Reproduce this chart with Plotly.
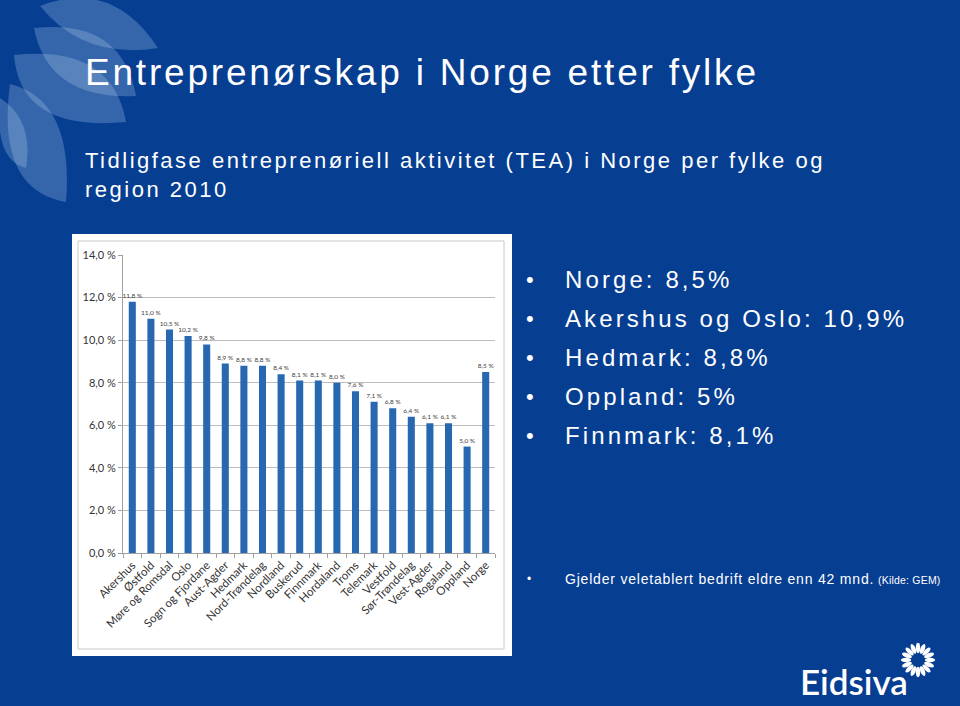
import math
import plotly.graph_objects as go

W, H = 960, 706

# ---------------- data ----------------
fylker = ["Akershus", "Østfold", "Møre og Romsdal", "Oslo", "Sogn og Fjordane",
          "Aust-Agder", "Hedmark", "Nord-Trøndelag", "Nordland", "Buskerud",
          "Finnmark", "Hordaland", "Troms", "Telemark", "Vestfold",
          "Sør-Trøndelag", "Vest-Agder", "Rogaland", "Oppland", "Norge"]
tea = [11.8, 11.0, 10.5, 10.2, 9.8,
       8.9, 8.8, 8.8, 8.4, 8.1,
       8.1, 8.0, 7.6, 7.1, 6.8,
       6.4, 6.1, 6.1, 5.0, 8.5]

title = "Entreprenørskap i Norge etter fylke"
subtitle_lines = ["Tidligfase entreprenøriell aktivitet (TEA) i Norge per fylke og",
                  "region 2010"]
bullets = ["Norge: 8,5%", "Akershus og Oslo: 10,9%", "Hedmark: 8,8%",
           "Oppland: 5%", "Finnmark: 8,1%"]
footnote_main = "Gjelder veletablert bedrift eldre enn 42 mnd."
footnote_src = "(Kilde: GEM)"
logo_text = "Eidsiva"

BG = "rgb(6,62,146)"
BAR = "rgb(40,104,176)"


def px(x):
    return x / W


def py(y):
    return 1 - y / H


def spaced(txt, ls):
    return f"<span style='letter-spacing:{ls}px'>{txt}</span>"


fig = go.Figure()
fig.add_trace(go.Bar(
    x=fylker, y=tea,
    marker=dict(color=BAR, line=dict(width=0)),
    texttemplate="%{y:.1f} %", textposition="outside", constraintext="none",
    textfont=dict(family="Lato, Liberation Sans, Arial", size=6.5, color="#404040"),
    cliponaxis=False, hoverinfo="x+y",
))

shapes = []
# white chart box
shapes.append(dict(type="rect", xref="paper", yref="paper", layer="below",
                   x0=px(72), x1=px(512), y0=py(656), y1=py(234),
                   fillcolor="white", line=dict(width=0)))
shapes.append(dict(type="rect", xref="paper", yref="paper", layer="below",
                   x0=px(78), x1=px(504), y0=py(649), y1=py(241),
                   fillcolor="rgba(0,0,0,0)", line=dict(color="#c8c8c8", width=1)))


def leaf(p0, c1, p1, c2):
    def P(p):
        return f"{px(p[0]):.4f},{py(p[1]):.4f}"
    return f"M {P(p0)} Q {P(c1)} {P(p1)} Q {P(c2)} {P(p0)} Z"


leaves = [
    ((40, 6), (112, -22), (158, 48), (84, 60)),
    ((34, 28), (122, 18), (136, 96), (48, 100)),
    ((14, 55), (112, 44), (126, 122), (20, 132)),
    ((10, 84), (74, 100), (66, 202), (-4, 190)),
    ((0, 98), (34, 120), (26, 168), (-6, 160)),
]
for lf in leaves:
    shapes.append(dict(type="path", xref="paper", yref="paper", layer="below",
                       path=leaf(*lf), fillcolor="rgba(190,215,245,0.26)",
                       line=dict(width=0)))

# logo flower
cx, cy = 918, 660
n_pet = 16
for k in range(n_pet):
    a = 2 * math.pi * k / n_pet
    rc, rl, rw = 12.0, 5.2, 2.2
    pts = []
    for j in range(16):
        t = 2 * math.pi * j / 16
        u = rl * math.cos(t)
        v = rw * math.sin(t)
        xx = cx + (rc + u) * math.cos(a) - v * math.sin(a)
        yy = cy + (rc + u) * math.sin(a) + v * math.cos(a)
        pts.append(f"{px(xx):.5f},{py(yy):.5f}")
    shapes.append(dict(type="path", xref="paper", yref="paper",
                       path="M " + " L ".join(pts) + " Z",
                       fillcolor="white", line=dict(width=0)))

FONT = "Liberation Sans, Arial"
ann = []
ann.append(dict(text=spaced(title, 2.8), x=px(83), y=py(72), xref="paper", yref="paper",
                xanchor="left", yanchor="middle", showarrow=False,
                font=dict(family=FONT, size=37, color="white")))
for i, line in enumerate(subtitle_lines):
    ann.append(dict(text=spaced(line, 2.5), x=px(83), y=py(160 + 30 * i), xref="paper",
                    yref="paper", xanchor="left", yanchor="middle", showarrow=False,
                    font=dict(family=FONT, size=22, color="white")))
for i, b in enumerate(bullets):
    yy = 279 + 39 * i
    ann.append(dict(text="•", x=px(524), y=py(yy), xref="paper", yref="paper",
                    xanchor="left", yanchor="middle", showarrow=False,
                    font=dict(family=FONT, size=22, color="white")))
    ann.append(dict(text=spaced(b, 3.1), x=px(563), y=py(yy), xref="paper", yref="paper",
                    xanchor="left", yanchor="middle", showarrow=False,
                    font=dict(family=FONT, size=24, color="white")))
ann.append(dict(text="•", x=px(525), y=py(579), xref="paper", yref="paper",
                xanchor="left", yanchor="middle", showarrow=False,
                font=dict(family=FONT, size=12, color="white")))
ann.append(dict(text=spaced(footnote_main, 0.8) + " <span style='font-size:10.5px;letter-spacing:0.2px'>"
                + footnote_src + "</span>",
                x=px(563), y=py(579), xref="paper", yref="paper",
                xanchor="left", yanchor="middle", showarrow=False,
                font=dict(family=FONT, size=14, color="white")))
ann.append(dict(text=logo_text, x=px(798), y=py(681), xref="paper", yref="paper",
                xanchor="left", yanchor="middle", showarrow=False,
                font=dict(family="Lato, Open Sans", size=35, color="white", weight=600)))

fig.update_layout(
    width=W, height=H, margin=dict(l=0, r=0, t=0, b=0, autoexpand=False),
    paper_bgcolor=BG, plot_bgcolor="white",
    separators=", ",
    showlegend=False, bargap=0.62,
    shapes=shapes, annotations=ann,
    xaxis=dict(domain=[px(123), px(495)], tickangle=-45, automargin=False,
               tickfont=dict(family="Lato, Liberation Sans, Arial", size=11.5, color="#333333"),
               showline=True, linecolor="#a0a0a0", linewidth=1,
               ticks="outside", ticklen=4, tickcolor="#a0a0a0", tickson="boundaries",
               showgrid=False, fixedrange=True),
    yaxis=dict(domain=[py(553), py(255)], range=[0, 14], dtick=2, automargin=False,
               tickformat=".1f", ticksuffix=" %",
               tickfont=dict(family="Lato, Liberation Sans, Arial", size=11, color="#333333"),
               showgrid=True, gridcolor="#bdbdbd", gridwidth=1,
               showline=True, linecolor="#a0a0a0", ticks="outside", ticklen=4,
               tickcolor="#a0a0a0", zeroline=False, fixedrange=True),
)

fig.write_html("out.html", config={"displayModeBar": False},
               post_script="document.body.style.margin='0';"
                           "document.body.style.overflow='hidden';")
